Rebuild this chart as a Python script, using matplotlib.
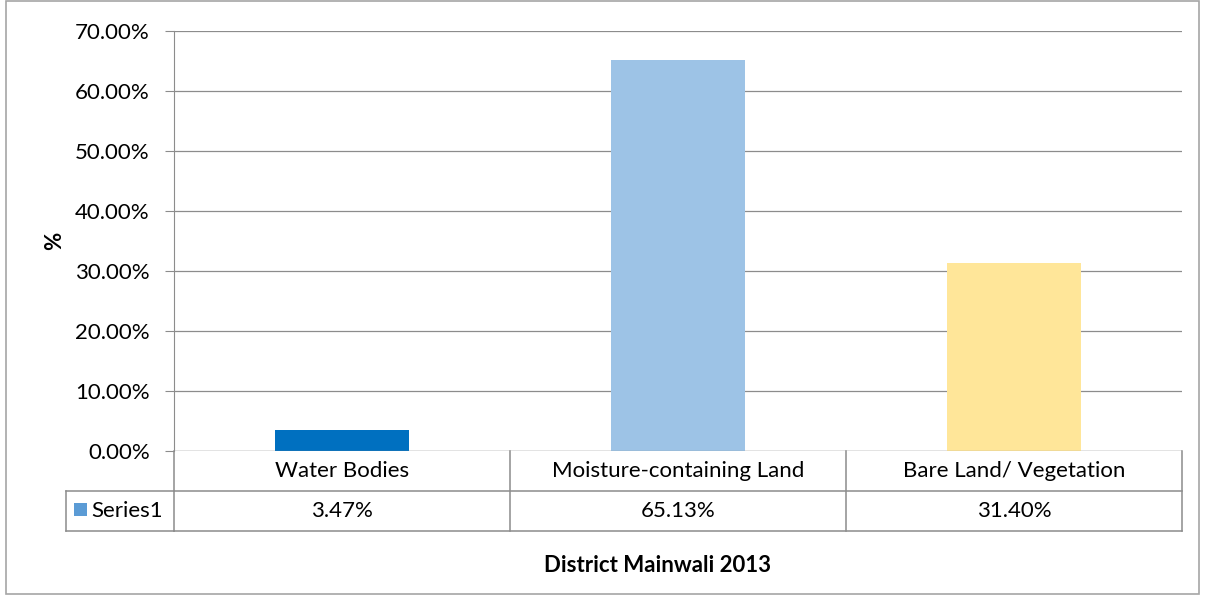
import matplotlib
matplotlib.use("Agg")
import matplotlib.pyplot as plt
from matplotlib.patches import Rectangle
import matplotlib.transforms as mtransforms

categories = ["Water Bodies", "Moisture-containing Land", "Bare Land/ Vegetation"]
values = [0.0347, 0.6513, 0.3140]
value_labels = ["3.47%", "65.13%", "31.40%"]
series_name = "Series1"
bar_colors = ["#0070C0", "#9DC3E6", "#FFE699"]
y_ticks = [0.0, 0.1, 0.2, 0.3, 0.4, 0.5, 0.6, 0.7]
x_title = "District Mainwali 2013"
y_title = "%"

plt.rcParams['font.family'] = ['Lato', 'DejaVu Sans']
FS = 16
W, H = 1206, 596
fig = plt.figure(figsize=(W / 100, H / 100), dpi=100)

# outer border
fig.patches.append(Rectangle((6 / W, 2 / H), (1199 - 6) / W, (595 - 2) / H,
                             transform=fig.transFigure, fill=False,
                             edgecolor="#A6A6A6", linewidth=1.2))

L, R, T, B = 174, 1182, 31, 451
ax = fig.add_axes([L / W, 1 - B / H, (R - L) / W, (B - T) / H])
grid_c = "#8C8C8C"
ax.bar(range(len(categories)), values, width=0.4, color=bar_colors, zorder=3)
ax.set_xlim(-0.5, len(categories) - 0.5)
ax.set_ylim(0, 0.7)
ax.set_yticks(y_ticks)
ax.set_yticklabels([f"{t*100:.2f}%" for t in y_ticks], fontsize=FS)
ax.yaxis.grid(True, color=grid_c, linewidth=0.9, zorder=0)
ax.set_xticks([])
for s in ["top", "right", "bottom"]:
    ax.spines[s].set_visible(False)
ax.spines["left"].set_color(grid_c)
ax.tick_params(axis="y", length=6.5, color=grid_c, pad=11)
ax.axhline(0, color=grid_c, linewidth=0.9, zorder=4)

# data table below axes
trans = mtransforms.blended_transform_factory(ax.transData, ax.transAxes)
ph = B - T
rh = 40 / ph
n = len(categories)
lc = "#8C8C8C"
lw = 1.1
ax.plot([-0.5, n - 0.5], [-rh, -rh], transform=trans, color=lc, lw=lw, clip_on=False)
ax.plot([-0.5, n - 0.5], [-2 * rh, -2 * rh], transform=trans, color=lc, lw=lw, clip_on=False)
for i in range(n + 1):
    ax.plot([i - 0.5, i - 0.5], [0, -2 * rh], transform=trans, color=lc, lw=lw, clip_on=False)
ft = fig.transFigure
x0 = 66 / W
y_top = 1 - (B + 40) / H
y_bot = 1 - (B + 80) / H
fig.lines.append(plt.Line2D([x0, L / W], [y_top, y_top], transform=ft, color=lc, lw=lw))
fig.lines.append(plt.Line2D([x0, L / W], [y_bot, y_bot], transform=ft, color=lc, lw=lw))
fig.lines.append(plt.Line2D([x0, x0], [y_top, y_bot], transform=ft, color=lc, lw=lw))
fig.patches.append(Rectangle((74 / W, 1 - 516 / H), 13 / W, 13 / H, transform=ft,
                             facecolor="#5B9BD5", edgecolor="none"))
fig.text(91 / W, (y_top + y_bot) / 2, series_name, fontsize=FS, va="center", ha="left")

for i, (c, v) in enumerate(zip(categories, value_labels)):
    ax.text(i, -rh / 2, c, transform=trans, ha="center", va="center", fontsize=FS)
    ax.text(i, -1.5 * rh, v, transform=trans, ha="center", va="center", fontsize=FS)

fig.text(658 / W, 1 - 565 / H, x_title, fontsize=FS, fontweight="bold", ha="center", va="center")
fig.text(55 / W, 1 - 241 / H, y_title, fontsize=FS, fontweight="bold", ha="center", va="center",
         rotation=90)

fig.savefig("out.png", dpi=100)
